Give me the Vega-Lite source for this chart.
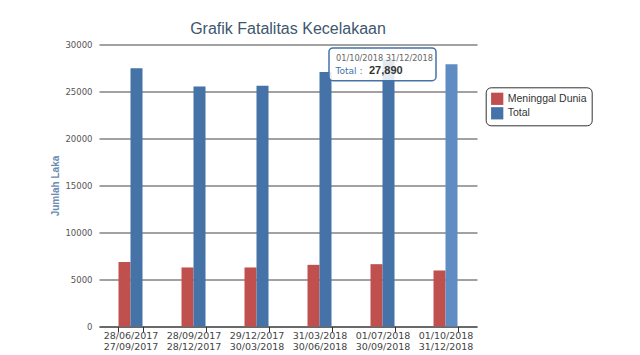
{
  "$schema": "https://vega.github.io/schema/vega-lite/v6.json",
  "width": 378,
  "height": 282,
  "autosize": {"type": "none"},
  "padding": {"left": 99, "top": 44.5, "right": 163, "bottom": 28.5},
  "title": {
    "text": "Grafik Fatalitas Kecelakaan",
    "font": "Liberation Sans",
    "fontSize": 16,
    "fontWeight": "normal",
    "color": "#3e576f",
    "offset": 4
  },
  "config": {
    "view": {"stroke": null},
    "background": "white"
  },
  "data": {
    "values": [
      {"period": "28/06/2017 27/09/2017", "series": "Meninggal Dunia", "value": 6850},
      {"period": "28/06/2017 27/09/2017", "series": "Total", "value": 27470},
      {"period": "28/09/2017 28/12/2017", "series": "Meninggal Dunia", "value": 6280},
      {"period": "28/09/2017 28/12/2017", "series": "Total", "value": 25520},
      {"period": "29/12/2017 30/03/2018", "series": "Meninggal Dunia", "value": 6280},
      {"period": "29/12/2017 30/03/2018", "series": "Total", "value": 25620},
      {"period": "31/03/2018 30/06/2018", "series": "Meninggal Dunia", "value": 6560},
      {"period": "31/03/2018 30/06/2018", "series": "Total", "value": 27080},
      {"period": "01/07/2018 30/09/2018", "series": "Meninggal Dunia", "value": 6630},
      {"period": "01/07/2018 30/09/2018", "series": "Total", "value": 28400},
      {"period": "01/10/2018 31/12/2018", "series": "Meninggal Dunia", "value": 5960},
      {"period": "01/10/2018 31/12/2018", "series": "Total", "value": 27890}
    ]
  },
  "layer": [
    {
      "mark": {"type": "bar"},
      "encoding": {
        "x": {
          "field": "period",
          "type": "nominal",
          "sort": null,
          "title": null,
          "scale": {"paddingInner": 0.619, "paddingOuter": 0.3095},
          "axis": {
            "labelAngle": 0,
            "labelExpr": "split(datum.label, ' ')",
            "labelFont": "DejaVu Sans",
            "labelFontSize": 9.5,
            "labelColor": "#444",
            "labelLineHeight": 11,
            "labelPadding": -1,
            "domainColor": "#333",
            "tickColor": "#333",
            "tickSize": 5,
            "tickBand": "extent",
            "grid": false,
            "labelLimit": 200
          }
        },
        "xOffset": {"field": "series", "type": "nominal", "sort": ["Meninggal Dunia", "Total"]},
        "y": {
          "field": "value",
          "type": "quantitative",
          "title": "Jumlah Laka",
          "scale": {"domain": [0, 30000], "nice": false},
          "axis": {
            "values": [0, 5000, 10000, 15000, 20000, 25000, 30000],
            "format": "d",
            "grid": true,
            "gridColor": "#444",
            "domain": false,
            "ticks": false,
            "labelPadding": 7,
            "labelFont": "DejaVu Sans",
            "labelFontSize": 8.5,
            "labelColor": "#555",
            "titleFont": "Liberation Sans",
            "titleFontSize": 10,
            "titleFontWeight": "bold",
            "titleColor": "#6a8cb3",
            "titlePadding": 4
          }
        },
        "color": {
          "condition": {
            "test": "datum.series === 'Total' && datum.period === '01/10/2018 31/12/2018'",
            "value": "#5f8cc2"
          },
          "field": "series",
          "type": "nominal",
          "scale": {"domain": ["Meninggal Dunia", "Total"], "range": ["#c0504d", "#4572a7"]},
          "legend": {
            "title": null,
            "orient": "none",
            "legendX": 386.7,
            "legendY": 42.8,
            "strokeColor": "#333",
            "fillColor": "white",
            "cornerRadius": 5,
            "padding": 5,
            "symbolType": "square",
            "symbolSize": 150,
            "symbolStrokeWidth": 0,
            "rowPadding": 1.5,
            "labelOffset": 4,
            "labelFont": "Liberation Sans",
            "labelFontSize": 10.5,
            "labelColor": "#333",
            "labelLimit": 200
          }
        }
      }
    },
    {
      "transform": [
        {"filter": "datum.period === '01/10/2018 31/12/2018' && datum.series === 'Total'"}
      ],
      "layer": [
        {
          "mark": {
            "type": "bar",
            "width": 107,
            "fill": "white",
            "fillOpacity": 0.85,
            "stroke": "#4572a7",
            "strokeWidth": 1.5,
            "cornerRadius": 4
          },
          "encoding": {
            "x": {"datum": "01/07/2018 30/09/2018", "type": "nominal", "title": null},
            "y": {"datum": 29630, "type": "quantitative", "title": "Jumlah Laka"},
            "y2": {"datum": 26150}
          }
        },
        {
          "mark": {
            "type": "text",
            "align": "center",
            "baseline": "middle",
            "dx": 2,
            "font": "DejaVu Sans",
            "fontSize": 8.2,
            "color": "#666"
          },
          "encoding": {
            "x": {"datum": "01/07/2018 30/09/2018", "type": "nominal", "title": null},
            "y": {"datum": 28510, "type": "quantitative", "title": "Jumlah Laka"},
            "text": {"field": "period"}
          }
        },
        {
          "mark": {
            "type": "text",
            "align": "left",
            "baseline": "middle",
            "dx": -47,
            "font": "DejaVu Sans",
            "fontSize": 9,
            "color": "#4572a7"
          },
          "encoding": {
            "x": {"datum": "01/07/2018 30/09/2018", "type": "nominal", "title": null},
            "y": {"datum": 27170, "type": "quantitative", "title": "Jumlah Laka"},
            "text": {"value": "Total :"}
          }
        },
        {
          "mark": {
            "type": "text",
            "align": "left",
            "baseline": "middle",
            "dx": -13.5,
            "font": "Liberation Sans",
            "fontSize": 11,
            "fontWeight": "bold",
            "color": "#333"
          },
          "encoding": {
            "x": {"datum": "01/07/2018 30/09/2018", "type": "nominal", "title": null},
            "y": {"datum": 27170, "type": "quantitative", "title": "Jumlah Laka"},
            "text": {"field": "value", "type": "quantitative", "format": ","}
          }
        }
      ]
    }
  ]
}
